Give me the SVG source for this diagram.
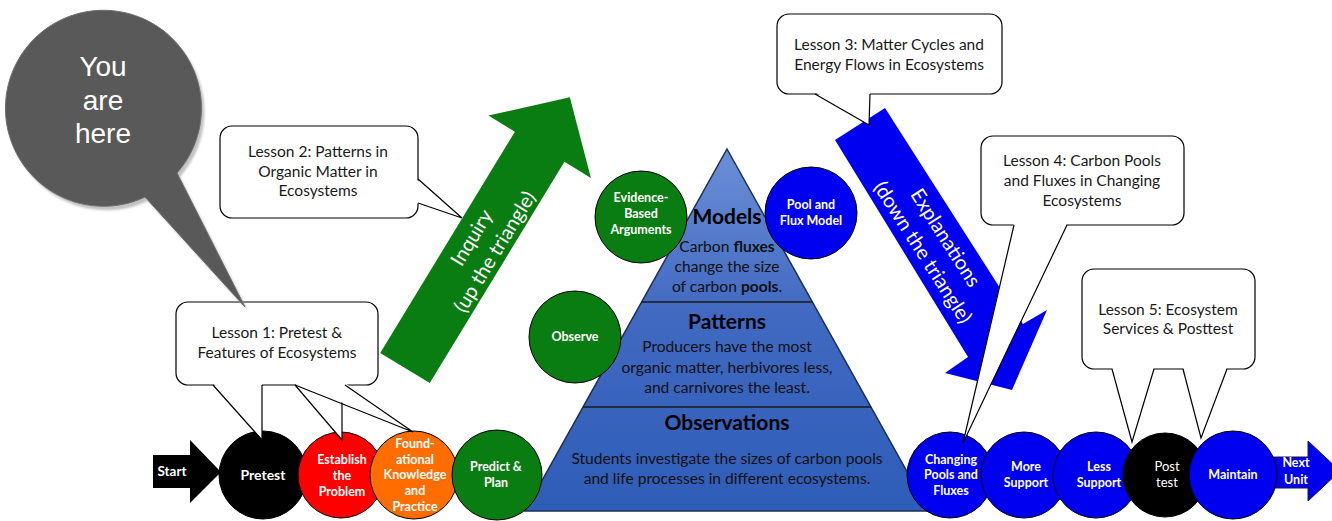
<svg xmlns="http://www.w3.org/2000/svg" width="1332" height="521" viewBox="0 0 1332 521">
  <style>
    .lbl { font-family: Lato, "Liberation Sans", sans-serif; fill: #ffffff; font-weight: bold; font-size: 12.5px; text-anchor: middle; }
    .lblr { font-family: Lato, "Liberation Sans", sans-serif; fill: #ffffff; font-size: 13px; text-anchor: middle; }
    .node { stroke: #000000; stroke-width: 1; }
    .box { fill: #ffffff; stroke: #000000; stroke-width: 1.2; }
    .tailfill { fill: #ffffff; stroke: none; }
    .tailedge { fill: none; stroke: #000000; stroke-width: 1.2; stroke-linejoin: miter; }
    .note { font-family: Lato, "Liberation Sans", sans-serif; fill: #1a1a1a; font-size: 15.5px; text-anchor: middle; }
    .ptitle { font-family: Lato, "Liberation Sans", sans-serif; fill: #000000; font-weight: bold; font-size: 21px; text-anchor: middle; }
    .ptext { font-family: Lato, "Liberation Sans", sans-serif; fill: #111111; font-size: 15.6px; text-anchor: middle; }
    .arrowtxt { font-family: Lato, "Liberation Sans", sans-serif; fill: #ffffff; font-size: 20px; text-anchor: middle; }
    .green { fill: #0a7d12; }
    .blue { fill: #0000f0; }
  </style>
  <defs>
    <linearGradient id="pyrFill" x1="0" y1="0" x2="0" y2="1">
      <stop offset="0" stop-color="#6c8fd6"/>
      <stop offset="0.45" stop-color="#4169c1"/>
      <stop offset="1" stop-color="#2e5db8"/>
    </linearGradient>
    <filter id="soft" x="-10%" y="-10%" width="120%" height="120%">
      <feGaussianBlur stdDeviation="1.2"/>
    </filter>
  </defs>

  <rect width="1332" height="521" fill="#ffffff"/>

  <!-- flow arrows -->
  <g id="connectors">
    <g id="inquiry-arrow" transform="translate(405,368) rotate(-58.67)">
      <path class="green" d="M0,-29 L259,-29 L259,-60 L317,0 L259,60 L259,29 L0,29 Z"/>
      <text class="arrowtxt" x="146" y="-4">Inquiry</text>
      <text class="arrowtxt" x="146" y="23">(up the triangle)</text>
    </g>
    <g id="explanations-arrow">
      <polygon class="blue" points="835,140 885,108 1023,324 1047,310 1012,390 945,373 968,357"/>
      <g transform="translate(860,124) rotate(57.4)">
        <text class="arrowtxt" x="142" y="-4">Explanations</text>
        <text class="arrowtxt" x="142" y="23">(down the triangle)</text>
      </g>
    </g>
    <g id="start-arrow">
      <polygon points="153,455 190,455 190,440 221,472 190,503 190,488 153,488" fill="#000000"/>
      <text class="lbl" x="172" y="476" style="font-size:13.5px">Start</text>
    </g>
    <g id="next-unit-arrow">
      <polygon class="blue" points="1268,457 1308,457 1308,441 1340,471 1308,501 1308,488 1268,488" stroke="#1a1a40" stroke-width="1"/>
      <text class="lbl" x="1296" y="467">Next</text>
      <text class="lbl" x="1296" y="484">Unit</text>
    </g>
  </g>

  <!-- evidence pyramid -->
  <g id="pyramid">
    <polygon points="727,149 929,511 525,511" fill="url(#pyrFill)" stroke="#1c2f55" stroke-width="1.5"/>
    <line x1="641.6" y1="302" x2="812.4" y2="302" stroke="#1a1a1a" stroke-width="1.5"/>
    <line x1="583" y1="407" x2="871" y2="407" stroke="#1a1a1a" stroke-width="1.5"/>
    <text class="ptitle" x="727" y="224">Models</text>
    <text class="ptext" x="727" y="252">Carbon <tspan font-weight="bold">fluxes</tspan></text>
    <text class="ptext" x="727" y="272">change the size</text>
    <text class="ptext" x="727" y="292">of carbon <tspan font-weight="bold">pools</tspan>.</text>
    <text class="ptitle" x="727" y="329">Patterns</text>
    <text class="ptext" x="727" y="352">Producers have the most</text>
    <text class="ptext" x="727" y="373">organic matter, herbivores less,</text>
    <text class="ptext" x="727" y="393">and carnivores the least.</text>
    <text class="ptitle" x="727" y="430">Observations</text>
    <text class="ptext" x="727" y="464">Students investigate the sizes of carbon pools</text>
    <text class="ptext" x="727" y="484">and life processes in different ecosystems.</text>
  </g>

  <!-- practice circles around the pyramid -->
  <g id="evidence-based-arguments">
    <circle class="node green" cx="641" cy="217" r="46"/>
    <text class="lbl" x="641" y="202">Evidence-</text>
    <text class="lbl" x="641" y="218">Based</text>
    <text class="lbl" x="641" y="234">Arguments</text>
  </g>
  <g id="pool-and-flux-model">
    <circle class="node blue" cx="811" cy="213" r="46"/>
    <text class="lbl" x="811" y="209">Pool and</text>
    <text class="lbl" x="811" y="225">Flux Model</text>
  </g>
  <g id="observe">
    <circle class="node green" cx="575" cy="337" r="46"/>
    <text class="lbl" x="575" y="341">Observe</text>
  </g>

  <!-- sequence of activities, left side -->
  <g id="pretest">
    <circle class="node" cx="263" cy="475" r="44" fill="#000000"/>
    <text class="lbl" x="263" y="480" style="font-size:14px">Pretest</text>
  </g>
  <g id="establish-the-problem">
    <circle class="node" cx="341" cy="475" r="43" fill="#ff0000"/>
    <text class="lbl" x="342" y="464">Establish</text>
    <text class="lbl" x="342" y="480">the</text>
    <text class="lbl" x="342" y="496">Problem</text>
  </g>
  <g id="foundational-knowledge">
    <circle class="node" cx="414" cy="475" r="44" fill="#ff6d00"/>
    <text class="lbl" x="415" y="448">Found-</text>
    <text class="lbl" x="415" y="464">ational</text>
    <text class="lbl" x="415" y="479">Knowledge</text>
    <text class="lbl" x="415" y="495">and</text>
    <text class="lbl" x="415" y="511">Practice</text>
  </g>
  <g id="predict-and-plan">
    <circle class="node green" cx="497" cy="475" r="45"/>
    <text class="lbl" x="496" y="471">Predict &amp;</text>
    <text class="lbl" x="496" y="487">Plan</text>
  </g>

  <!-- sequence of activities, right side -->
  <g id="changing-pools">
    <circle class="node blue" cx="950" cy="475" r="43"/>
    <text class="lbl" x="951" y="464">Changing</text>
    <text class="lbl" x="951" y="479">Pools and</text>
    <text class="lbl" x="951" y="495">Fluxes</text>
  </g>
  <g id="more-support">
    <circle class="node blue" cx="1024" cy="475" r="43"/>
    <text class="lbl" x="1026" y="471">More</text>
    <text class="lbl" x="1026" y="487">Support</text>
  </g>
  <g id="less-support">
    <circle class="node blue" cx="1096" cy="475" r="43"/>
    <text class="lbl" x="1099" y="471">Less</text>
    <text class="lbl" x="1099" y="487">Support</text>
  </g>
  <g id="post-test">
    <circle class="node" cx="1165" cy="475" r="42" fill="#000000"/>
    <text class="lblr" x="1167" y="471">Post</text>
    <text class="lblr" x="1167" y="487">test</text>
  </g>
  <g id="maintain">
    <circle class="node blue" cx="1233" cy="475" r="44"/>
    <text class="lbl" x="1233" y="479">Maintain</text>
  </g>

  <!-- lesson callouts -->
  <g id="lesson-2">
    <rect class="box" x="220" y="126" width="198" height="92" rx="12"/>
    <polygon class="tailfill" points="416,179 462,218 416,203"/>
    <polyline class="tailedge" points="418,179 462,218 418,203"/>
    <text class="note" x="318" y="157">Lesson 2: Patterns in</text>
    <text class="note" x="318" y="177">Organic Matter in</text>
    <text class="note" x="318" y="196">Ecosystems</text>
  </g>
  <g id="lesson-3">
    <rect class="box" x="777" y="14" width="225" height="80" rx="12"/>
    <polygon class="tailfill" points="815,92 869,125 870,92"/>
    <polyline class="tailedge" points="815,94 869,125 870,94"/>
    <text class="note" x="889" y="50">Lesson 3: Matter Cycles and</text>
    <text class="note" x="889" y="70">Energy Flows in Ecosystems</text>
  </g>
  <g id="lesson-4">
    <rect class="box" x="981" y="136" width="203" height="89" rx="12"/>
    <polygon class="tailfill" points="1014,223 963,443 1067,223"/>
    <polyline class="tailedge" points="1014,225 963,443 1067,225"/>
    <text class="note" x="1082" y="166">Lesson 4: Carbon Pools</text>
    <text class="note" x="1082" y="186">and Fluxes in Changing</text>
    <text class="note" x="1082" y="206">Ecosystems</text>
  </g>
  <g id="lesson-5">
    <rect class="box" x="1082" y="269" width="173" height="100" rx="12"/>
    <polygon class="tailfill" points="1112,367 1132,442 1154,367"/>
    <polyline class="tailedge" points="1112,369 1132,442 1154,369"/>
    <polygon class="tailfill" points="1183,367 1201,438 1227,367"/>
    <polyline class="tailedge" points="1183,369 1201,438 1227,369"/>
    <text class="note" x="1168" y="315">Lesson 5: Ecosystem</text>
    <text class="note" x="1168" y="334">Services &amp; Posttest</text>
  </g>
  <g id="lesson-1">
    <rect class="box" x="176" y="302" width="202" height="83" rx="12"/>
    <polygon class="tailfill" points="213,383 262,440 262,383"/>
    <polyline class="tailedge" points="213,385 262,440 262,385"/>
    <polygon class="tailfill" points="295,383 342,440 342,383"/>
    <polyline class="tailedge" points="295,385 342,440 342,385"/>
    <polygon class="tailfill" points="295,383 413,432 345,383"/>
    <polyline class="tailedge" points="295,385 413,432 345,385"/>
    <text class="note" x="277" y="338">Lesson 1: Pretest &amp;</text>
    <text class="note" x="277" y="358">Features of Ecosystems</text>
  </g>

  <!-- position marker -->
  <g id="you-are-here">
    <path d="M177,173 L245,307 L145,197 A98,98 0 1 1 177,173 Z" fill="#9a9a9a" opacity="0.6" transform="translate(3,4)" filter="url(#soft)"/>
    <path d="M177,173 L245,307 L145,197 A98,98 0 1 1 177,173 Z" fill="#595959" stroke="#6e6e6e" stroke-width="1"/>
    <g font-family="'Liberation Sans', Arial, sans-serif" font-size="28" fill="#ffffff" text-anchor="middle">
      <text x="103" y="76">You</text>
      <text x="103" y="110">are</text>
      <text x="103" y="143">here</text>
    </g>
  </g>
</svg>
